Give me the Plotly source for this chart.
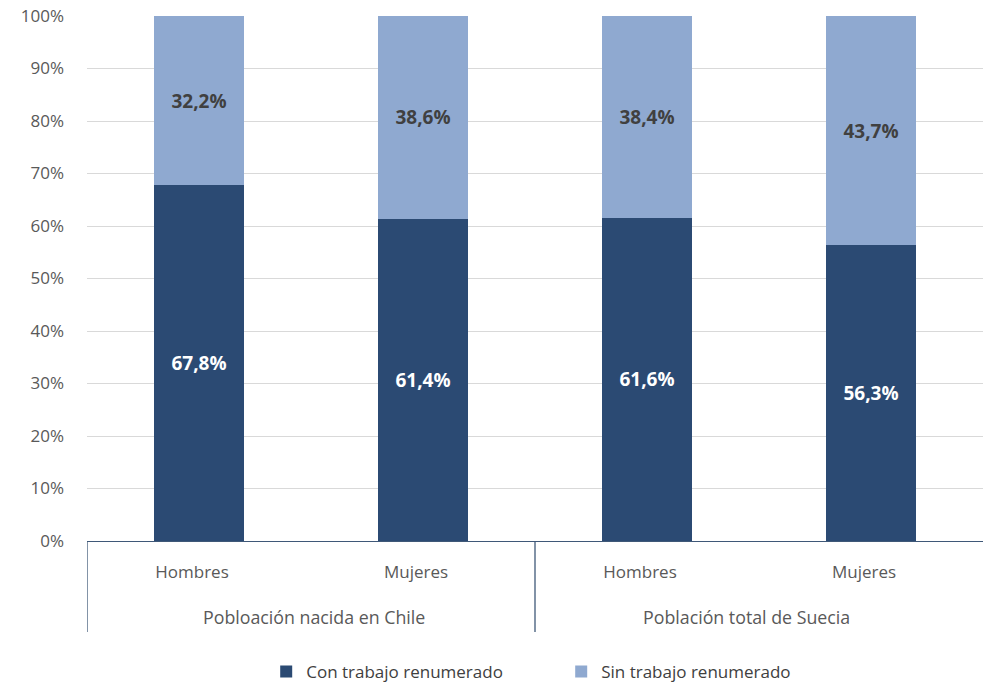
import plotly.graph_objects as go

group_labels = ["Pobloación nacida en Chile", "Población total de Suecia"]
sexes = ["Hombres", "Mujeres", "Hombres", "Mujeres"]
con_trabajo = [67.8, 61.4, 61.6, 56.3]
sin_trabajo = [32.2, 38.6, 38.4, 43.7]
series_names = ["Con trabajo renumerado", "Sin trabajo renumerado"]
y_ticks = [0, 10, 20, 30, 40, 50, 60, 70, 80, 90, 100]
y_ticktext = [f"{v}%" for v in y_ticks]

positions = list(range(len(sexes)))

def fmt(v):
    return f"{v:.1f}".replace(".", ",") + "%"

font_family = "Open Sans, Noto Sans, Liberation Sans, sans-serif"
dark = "#2B4A73"
light = "#8FA9D0"
axis_col = "#3F5878"

fig = go.Figure()
fig.add_trace(go.Bar(
    x=positions, y=con_trabajo, name=series_names[0],
    marker=dict(color=dark, line=dict(width=0)),
    text=[fmt(v) for v in con_trabajo], textposition="inside", insidetextanchor="middle",
    textfont=dict(color="white", size=19, family=font_family, weight="bold"),
    constraintext="none", textangle=0,
))
fig.add_trace(go.Bar(
    x=positions, y=sin_trabajo, name=series_names[1],
    marker=dict(color=light, line=dict(width=0)),
    text=[fmt(v) for v in sin_trabajo], textposition="inside", insidetextanchor="middle",
    textfont=dict(color="#404040", size=19, family=font_family, weight="bold"),
    constraintext="none", textangle=0,
))

plot_h = 684 - 16 - 143

def py(px_below):
    return -px_below / plot_h

n_per_group = 2
label_shift = [3, -13]
for gi, glabel in enumerate(group_labels):
    left = gi * n_per_group - 0.5
    fig.add_shape(type="line", xref="x", yref="paper", x0=left, x1=left,
                  y0=0, y1=py(91), line=dict(color=axis_col, width=1.3))
    center = gi * n_per_group + (n_per_group - 1) / 2
    fig.add_annotation(x=center, xref="x", y=py(76), yref="paper", text=glabel,
                       showarrow=False, yanchor="middle", xshift=label_shift[gi],
                       font=dict(size=17.8, color="#595959", family=font_family))

fig.update_layout(
    barmode="stack",
    bargap=0.6,
    width=983, height=684,
    margin=dict(l=87, r=0, t=16, b=143, autoexpand=False),
    plot_bgcolor="white", paper_bgcolor="white",
    font=dict(family=font_family, size=17, color="#595959"),
    uniformtext=dict(mode=False),
    legend=dict(orientation="h", x=0.2, xanchor="left", y=py(131), yanchor="middle",
                font=dict(size=17, color="#404040"), traceorder="normal",
                entrywidth=250, entrywidthmode="pixels", itemwidth=30),
    showlegend=True,
)
fig.update_yaxes(range=[0, 100], tickvals=y_ticks, ticktext=y_ticktext, showgrid=True,
                 gridcolor="#D9D9D9", gridwidth=1.3, zeroline=False, automargin=False,
                 tickfont=dict(size=17, color="#595959"), ticks="", showline=False,
                 ticklabelstandoff=22)
fig.update_xaxes(range=[-0.5, len(sexes) - 0.5], tickvals=positions, ticktext=sexes,
                 showline=True, linecolor=axis_col, linewidth=1.3, automargin=False,
                 tickfont=dict(size=17, color="#595959"), ticks="", showgrid=False,
                 ticklabelstandoff=15, ticklabelshift=-7)

fig.write_html("out.html", config={"displayModeBar": False},
               post_script="document.body.style.margin='0';document.body.style.overflow='hidden';")
